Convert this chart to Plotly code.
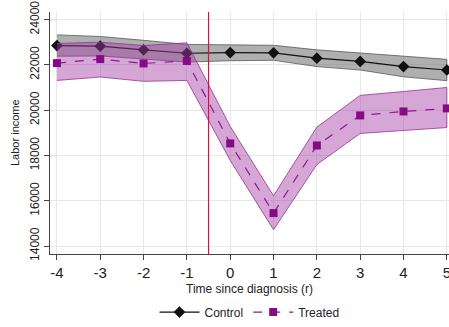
import plotly.graph_objects as go

periods = [-4, -3, -2, -1, 0, 1, 2, 3, 4, 5]
control = [22850, 22820, 22660, 22510, 22540, 22530, 22290, 22150, 21920, 21770]
control_hi = [23320, 23250, 23080, 22900, 22880, 22860, 22660, 22530, 22370, 22240]
control_lo = [22380, 22390, 22240, 22120, 22180, 22200, 21920, 21770, 21470, 21300]
treated = [22075, 22250, 22060, 22170, 18530, 15456, 18440, 19766, 19940, 20075]
treated_hi = [22940, 23000, 22850, 22970, 19280, 16220, 19250, 20650, 20820, 21000]
treated_lo = [21310, 21460, 21270, 21310, 17780, 14720, 17600, 18970, 19100, 19230]
x_ticks = [-4, -3, -2, -1, 0, 1, 2, 3, 4, 5]
y_ticks = [14000, 16000, 18000, 20000, 22000, 24000]
event_line = -0.5

fig = go.Figure()
# Control CI band
fig.add_trace(go.Scatter(x=periods + periods[::-1], y=control_hi + control_lo[::-1],
                         fill="toself", fillcolor="rgba(110,110,110,0.55)",
                         line=dict(color="rgba(90,90,90,0.8)", width=1),
                         hoverinfo="skip", showlegend=False))
fig.add_trace(go.Scatter(x=periods, y=control, mode="lines+markers", name="Control",
                         line=dict(color="#111111", width=1.2),
                         marker=dict(symbol="diamond", size=9, color="#111111"),
                         cliponaxis=False))
# Treated CI band
fig.add_trace(go.Scatter(x=periods + periods[::-1], y=treated_hi + treated_lo[::-1],
                         fill="toself", fillcolor="rgba(165,60,165,0.45)",
                         line=dict(color="rgba(150,50,150,0.8)", width=1),
                         hoverinfo="skip", showlegend=False))
fig.add_trace(go.Scatter(x=periods, y=treated, mode="lines+markers", name="Treated",
                         line=dict(color="#8b1a8b", width=1.2, dash="dash"),
                         marker=dict(symbol="square", size=8, color="#850a85"),
                         cliponaxis=False))

fig.add_shape(type="line", x0=event_line, x1=event_line, y0=0, y1=1, yref="paper",
              line=dict(color="#d6133f", width=1.2))

fig.add_annotation(text="Labor income", x=-35 / 399, xanchor="center", y=0.5,
                   xref="paper", yref="paper", showarrow=False, textangle=-90,
                   font=dict(size=11))

fig.update_layout(
    width=449, height=327,
    margin=dict(l=50, r=0, t=12, b=73),
    paper_bgcolor="white", plot_bgcolor="white",
    font=dict(family="Liberation Sans, Arial, sans-serif", color="#222222"),
    showlegend=True,
    legend=dict(orientation="h", x=0.5, xanchor="center", y=-0.24, yanchor="middle",
                font=dict(size=12), itemwidth=40, tracegroupgap=0),
    xaxis=dict(range=[-4.16, 5.05], tickvals=x_ticks, ticktext=[str(v) for v in x_ticks],
               showgrid=True, gridcolor="#e8e8e8", gridwidth=1,
               showline=True, linecolor="#444444", linewidth=1,
               ticks="outside", ticklen=5, tickcolor="#444444",
               tickfont=dict(size=15), zeroline=False, automargin=False,
               ticklabeloverflow="allow",
               title=dict(text="Time since diagnosis (r)", font=dict(size=12), standoff=4)),
    yaxis=dict(range=[13650, 24330], tickvals=y_ticks, ticktext=[str(v) for v in y_ticks],
               showgrid=True, gridcolor="#e8e8e8", gridwidth=1,
               showline=True, linecolor="#444444", linewidth=1,
               ticks="outside", ticklen=5, tickcolor="#444444",
               tickangle=-90, tickfont=dict(size=12), zeroline=False, automargin=False),
)

fig.write_html("out.html", config={"displayModeBar": False},
               post_script="document.body.style.margin='0';")
